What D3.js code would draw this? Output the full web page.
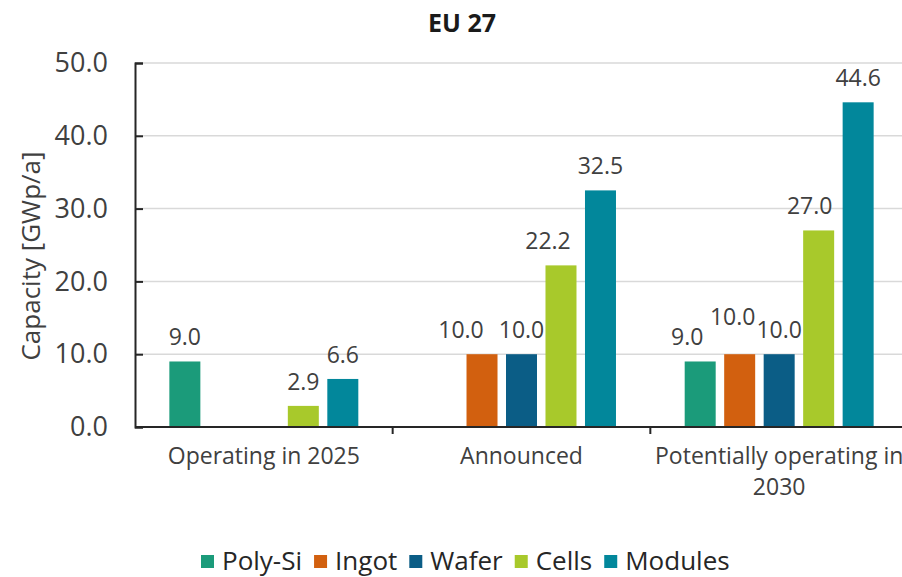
<!DOCTYPE html>
<html>
<head>
<meta charset="utf-8">
<script src="https://cdn.jsdelivr.net/npm/d3@7"></script>
<style>
  body { margin: 0; background: #fff; }
  svg { display: block; font-family: "Open Sans", sans-serif; }
</style>
</head>
<body>
<script>
// ** Chart data
var categories = ["Operating in 2025", "Announced", "Potentially operating in 2030"];
var categoryLines = [["Operating in 2025"], ["Announced"], ["Potentially operating in", "2030"]];
var seriesNames = ["Poly-Si", "Ingot", "Wafer", "Cells", "Modules"];
var polySi  = [9.0, null, 9.0];
var ingot   = [null, 10.0, 10.0];
var wafer   = [null, 10.0, 10.0];
var cells   = [2.9, 22.2, 27.0];
var modules = [6.6, 32.5, 44.6];
var yTicks = [0, 10, 20, 30, 40, 50];
var colors = ["#1b9b7a", "#d2600f", "#0b5d86", "#a8c92b", "#02879b"];

var seriesValues = [polySi, ingot, wafer, cells, modules];

// ** Size and plot box
var width = 902, height = 577;
var plotLeft = 135, plotTop = 63, plotBottom = 427, plotRight = 908;

var svg = d3.select('body').append('svg')
    .attr('width', width)
    .attr('height', height);

// ** Scales
var x = d3.scaleBand().domain(categories).range([plotLeft, plotRight]).padding(0);
var xInner = d3.scaleBand().domain(seriesNames).range([0, x.bandwidth()])
    .paddingInner(0.215).paddingOuter(0.87);
var y = d3.scaleLinear().domain([0, 50]).range([plotBottom, plotTop]);
var color = d3.scaleOrdinal().domain(seriesNames).range(colors);

// ** Title
svg.append('text')
    .attr('x', 462).attr('y', 32)
    .attr('text-anchor', 'middle')
    .attr('font-size', 25).attr('font-weight', 'bold')
    .attr('fill', '#1a1a1a')
    .text('EU 27');

// ** Grid lines
svg.append('g').selectAll('line')
    .data(yTicks.filter(function(d){ return d > 0; }))
    .enter().append('line')
    .attr('x1', plotLeft).attr('x2', width)
    .attr('y1', function(d){ return y(d); })
    .attr('y2', function(d){ return y(d); })
    .attr('stroke', '#d9d9d9').attr('stroke-width', 1.5);

// ** Y axis
var yAxis = svg.append('g')
    .attr('transform', 'translate(' + plotLeft + ',0)')
    .call(d3.axisLeft(y).tickValues(yTicks).tickFormat(d3.format('.1f'))
      .tickSize(-8).tickPadding(27));
yAxis.select('.domain').attr('stroke', '#262626').attr('stroke-width', 2);
yAxis.selectAll('.tick line').attr('stroke', '#262626').attr('stroke-width', 2);
yAxis.selectAll('.tick text')
    .attr('font-size', 27).attr('fill', '#404040')
    .attr('font-family', '"Open Sans", sans-serif');

// ** Y axis title
svg.append('text')
    .attr('transform', 'translate(40,' + 256 + ') rotate(-90)')
    .attr('text-anchor', 'middle')
    .attr('font-size', 26).attr('fill', '#404040')
    .text('Capacity [GWp/a]');

// ** Bars
var rows = [];
categories.forEach(function(c, i){
  seriesNames.forEach(function(s, j){
    if (seriesValues[j][i] != null) rows.push({cat: c, series: s, value: seriesValues[j][i]});
  });
});

var bars = svg.append('g');
bars.selectAll('rect')
    .data(rows)
    .enter().append('rect')
    .attr('x', function(d){ return x(d.cat) + xInner(d.series); })
    .attr('y', function(d){ return y(d.value); })
    .attr('width', xInner.bandwidth())
    .attr('height', function(d){ return y(0) - y(d.value); })
    .attr('fill', function(d){ return color(d.series); });

// ** Value labels, some nudged aside to clear their neighbours
var labelNudge = {
  "Announced|Ingot": [-21, 0],
  "Announced|Cells": [-13, 0],
  "Potentially operating in 2030|Poly-Si": [-13, 0],
  "Potentially operating in 2030|Ingot": [-7, -13],
  "Potentially operating in 2030|Cells": [-9, 0]
};
var nudge = function(d){ return labelNudge[d.cat + '|' + d.series] || [0, 0]; };
bars.selectAll('text')
    .data(rows)
    .enter().append('text')
    .attr('x', function(d){ return x(d.cat) + xInner(d.series) + xInner.bandwidth() / 2 + nudge(d)[0]; })
    .attr('y', function(d){ return y(d.value) - 16 + nudge(d)[1]; })
    .attr('text-anchor', 'middle')
    .attr('font-size', 23).attr('fill', '#404040')
    .text(function(d){ return d3.format('.1f')(d.value); });

// ** X axis
svg.append('line')
    .attr('x1', plotLeft).attr('x2', width)
    .attr('y1', y(0)).attr('y2', y(0))
    .attr('stroke', '#262626').attr('stroke-width', 2);

svg.append('g').selectAll('line')
    .data(categories.slice(1))
    .enter().append('line')
    .attr('x1', function(d){ return x(d); }).attr('x2', function(d){ return x(d); })
    .attr('y1', y(0)).attr('y2', y(0) + 7)
    .attr('stroke', '#262626').attr('stroke-width', 2);

var catLabels = svg.append('g').selectAll('text')
    .data(categories)
    .enter().append('text')
    .attr('text-anchor', 'middle')
    .attr('font-size', 23).attr('fill', '#404040');
catLabels.each(function(c, i){
  var t = d3.select(this);
  categoryLines[i].forEach(function(line, k){
    t.append('tspan')
      .attr('x', x(c) + x.bandwidth() / 2)
      .attr('y', 464 + k * 31)
      .text(line);
  });
});

// ** Legend
var legend = svg.append('g');
var lx = 201;
seriesNames.forEach(function(s){
  legend.append('rect')
      .attr('x', lx).attr('y', 555)
      .attr('width', 13).attr('height', 13)
      .attr('fill', color(s));
  var t = legend.append('text')
      .attr('x', lx + 21).attr('y', 570)
      .attr('font-size', 26).attr('fill', '#262626')
      .text(s);
  lx += 21 + t.node().getComputedTextLength() + 12;
});
</script>
</body>
</html>
